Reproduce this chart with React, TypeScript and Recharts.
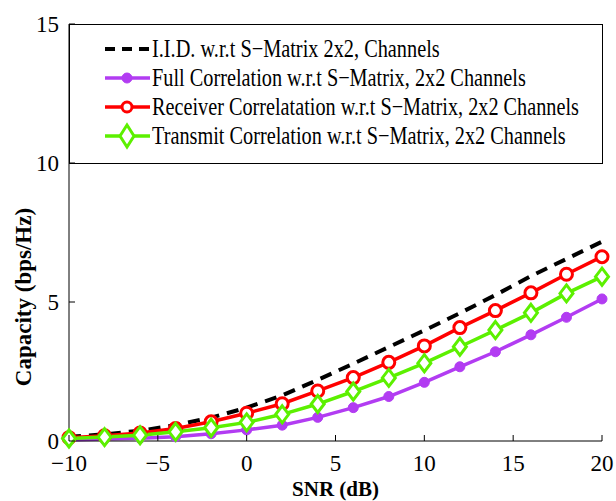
import React, { useLayoutEffect, useRef, useState } from 'react'
import { LineChart, Line, XAxis, YAxis } from 'recharts'

// SNR sweep (dB) and capacity per scheme (bps/Hz)
const SNR = [-10, -8, -6, -4, -2, 0, 2, 4, 6, 8, 10, 12, 14, 16, 18, 20]
const IID = [0.15, 0.24, 0.37, 0.57, 0.84, 1.2, 1.64, 2.2, 2.78, 3.38, 3.98, 4.6, 5.25, 5.93, 6.55, 7.17]
const FULL = [0.04, 0.07, 0.1, 0.15, 0.26, 0.4, 0.57, 0.85, 1.2, 1.6, 2.11, 2.67, 3.21, 3.82, 4.45, 5.11]
const RECV = [0.12, 0.19, 0.29, 0.45, 0.69, 1.0, 1.34, 1.8, 2.28, 2.83, 3.42, 4.08, 4.69, 5.33, 6.0, 6.63]
const TRANS = [0.09, 0.14, 0.21, 0.33, 0.48, 0.67, 0.96, 1.33, 1.78, 2.27, 2.8, 3.39, 3.99, 4.61, 5.31, 5.91]

const X_TICKS = [-10, -5, 0, 5, 10, 15, 20]
const Y_TICKS = [0, 5, 10, 15]

// legend entries; width = measured text width in the figure (text is condensed)
const LEGEND_ITEMS = [
  { key: 'iid', label: 'I.I.D. w.r.t S\u2212Matrix 2x2, Channels', color: '#000000', marker: 'none', width: 288 },
  { key: 'full', label: 'Full Correlation w.r.t S\u2212Matrix, 2x2 Channels', color: '#b23cf2', marker: 'dot', width: 374 },
  { key: 'recv', label: 'Receiver Correlatation w.r.t S\u2212Matrix, 2x2 Channels', color: '#ff0000', marker: 'circle', width: 427 },
  { key: 'trans', label: 'Transmit Correlation w.r.t S\u2212Matrix, 2x2 Channels', color: '#5cf000', marker: 'diamond', width: 414 },
]

const data = SNR.map((s, i) => ({ snr: s, iid: IID[i], full: FULL[i], recv: RECV[i], trans: TRANS[i] }))

const FONT = '"Liberation Serif", "Times New Roman", serif'
const TICK = 6

const minus = (v: number) => (v < 0 ? `\u2212${Math.abs(v)}` : `${v}`)

function Marker({ kind, cx, cy, color, big }: { kind: string; cx: number; cy: number; color: string; big?: boolean }) {
  if (kind === 'dot') return <circle cx={cx} cy={cy} r={5} fill={color} stroke={color} strokeWidth={1} />
  if (kind === 'circle')
    return <circle cx={cx} cy={cy} r={big ? 5 : 6} fill="#ffffff" stroke={color} strokeWidth={3} />
  if (kind === 'diamond') {
    const h = big ? 11 : 8.5
    const w = big ? 7 : 6.5
    return (
      <polygon
        points={`${cx},${cy - h} ${cx + w},${cy} ${cx},${cy + h} ${cx - w},${cy}`}
        fill="#ffffff"
        stroke={color}
        strokeWidth={3}
      />
    )
  }
  return null
}

const dotFor = (kind: string, color: string) => (p: any) =>
  p.cx == null ? <g key={p.index} /> : <g key={p.index}><Marker kind={kind} cx={p.cx} cy={p.cy} color={color} /></g>

const textStyle = { fontFamily: FONT }

function BottomTick({ x, y, payload }: any) {
  return (
    <g>
      <line x1={x} y1={y} x2={x} y2={y - TICK} stroke="#000" />
      <text x={x} y={y + 30} textAnchor="middle" fontSize={23} style={textStyle} fill="#000">
        {minus(payload.value)}
      </text>
    </g>
  )
}

function LeftTick({ x, y, payload }: any) {
  return (
    <g>
      <line x1={x} y1={y} x2={x + TICK} y2={y} stroke="#000" />
      <text x={x - 10} y={y + 8} textAnchor="end" fontSize={23} style={textStyle} fill="#000">
        {payload.value}
      </text>
    </g>
  )
}

const TopTick = ({ x, y }: any) => <line x1={x} y1={y} x2={x} y2={y + TICK} stroke="#000" />
const RightTick = ({ x, y }: any) => <line x1={x} y1={y} x2={x - TICK} y2={y} stroke="#000" />

// legend text squeezed horizontally to the width it has in the figure
function SqueezedText({ x, y, width, children }: { x: number; y: number; width: number; children: string }) {
  const ref = useRef<SVGTextElement>(null)
  const [sx, setSx] = useState(1)
  useLayoutEffect(() => {
    if (ref.current) {
      const w = ref.current.getComputedTextLength()
      if (w > 0) setSx(width / w)
    }
  }, [width, children])
  return (
    <text
      ref={ref}
      transform={`translate(${x} ${y}) scale(${sx} 1)`}
      fontSize={25}
      style={textStyle}
      fill="#000"
    >
      {children}
    </text>
  )
}

function LegendBox() {
  return (
    <svg width={534} height={140} style={{ display: 'block' }}>
      <rect x={0.5} y={0.5} width={533} height={139} fill="none" stroke="#000" />
      {LEGEND_ITEMS.map((it, i) => {
        const cy = 25 + i * 29
        return (
          <g key={it.key}>
            <line
              x1={36}
              y1={cy}
              x2={81}
              y2={cy}
              stroke={it.color}
              strokeWidth={it.marker === 'none' ? 4 : 3.5}
              strokeDasharray={it.marker === 'none' ? '10 7' : undefined}
            />
            <Marker kind={it.marker} cx={58} cy={cy} color={it.color} big />
            <SqueezedText x={83} y={cy + 8} width={it.width}>
              {it.label}
            </SqueezedText>
          </g>
        )
      })}
    </svg>
  )
}

export default function App() {
  return (
    <div style={{ position: 'relative', width: 616, height: 501, background: '#fff' }}>
      <style>{'body{margin:0}'}</style>
      <LineChart
        width={616}
        height={501}
        data={data}
        margin={{ top: 24, right: 14, left: 9, bottom: 0 }}
      >
        <XAxis
          dataKey="snr"
          type="number"
          domain={[-10, 20]}
          ticks={X_TICKS}
          height={60}
          tickLine={false}
          tickSize={0}
          tickMargin={0}
          stroke="#000"
          tick={<BottomTick />}
          label={({ viewBox }: any) => (
            <text
              x={viewBox.x + viewBox.width / 2}
              y={viewBox.y + 55}
              textAnchor="middle"
              fontSize={21}
              fontWeight="bold"
              style={textStyle}
              fill="#000"
            >
              SNR (dB)
            </text>
          )}
        />
        <XAxis
          xAxisId="top"
          orientation="top"
          type="number"
          domain={[-10, 20]}
          ticks={X_TICKS}
          height={0}
          tickLine={false}
          tickSize={0}
          tickMargin={0}
          stroke="#000"
          tick={<TopTick />}
        />
        <YAxis
          type="number"
          domain={[0, 15]}
          ticks={Y_TICKS}
          width={60}
          tickLine={false}
          tickSize={0}
          tickMargin={0}
          stroke="#000"
          tick={<LeftTick />}
          label={() => (
            <text
              x={0}
              y={0}
              transform="translate(31 297) rotate(-90)"
              textAnchor="middle"
              fontSize={23}
              fontWeight="bold"
              style={textStyle}
              fill="#000"
            >
              Capacity (bps/Hz)
            </text>
          )}
        />
        <YAxis
          yAxisId="right"
          orientation="right"
          type="number"
          domain={[0, 15]}
          ticks={Y_TICKS}
          width={0}
          tickLine={false}
          tickSize={0}
          tickMargin={0}
          stroke="#000"
          tick={<RightTick />}
        />
        <Line
          dataKey="iid"
          stroke="#000000"
          strokeWidth={4}
          strokeDasharray="12 8"
          dot={false}
          isAnimationActive={false}
        />
        <Line
          dataKey="full"
          stroke="#b23cf2"
          strokeWidth={3.5}
          dot={dotFor('dot', '#b23cf2')}
          isAnimationActive={false}
        />
        <Line
          dataKey="recv"
          stroke="#ff0000"
          strokeWidth={3.5}
          dot={dotFor('circle', '#ff0000')}
          isAnimationActive={false}
        />
        <Line
          dataKey="trans"
          stroke="#5cf000"
          strokeWidth={3.5}
          dot={dotFor('diamond', '#5cf000')}
          isAnimationActive={false}
        />
      </LineChart>
      <div style={{ position: 'absolute', left: 69, top: 24 }}>
        <LegendBox />
      </div>
    </div>
  )
}
